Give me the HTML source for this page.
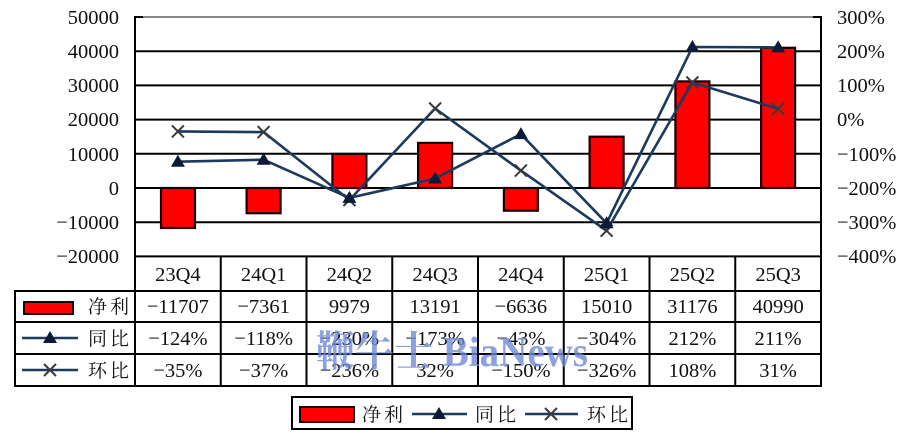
<!DOCTYPE html>
<html><head><meta charset="utf-8"><style>
html,body{margin:0;padding:0;background:#fff;}
svg{display:block;}
text{font-family:"Liberation Serif","Noto Serif CJK SC",serif;fill:#111;}
.cjk{font-family:"Noto Serif CJK SC","Liberation Serif",serif;}
</style></head><body>
<svg width="906" height="442" viewBox="0 0 906 442" xmlns="http://www.w3.org/2000/svg">
<rect width="906" height="442" fill="#fff"/>
<!-- gridlines -->
<line x1="135" y1="17" x2="821" y2="17" stroke="#888" stroke-width="2"/>
<g stroke="#000" stroke-width="2">
<line x1="135" y1="51.2" x2="821" y2="51.2"/>
<line x1="135" y1="85.4" x2="821" y2="85.4"/>
<line x1="135" y1="119.6" x2="821" y2="119.6"/>
<line x1="135" y1="153.8" x2="821" y2="153.8"/>
<line x1="135" y1="188" x2="821" y2="188"/>
<line x1="135" y1="222.2" x2="821" y2="222.2"/>
<line x1="135" y1="256.4" x2="821" y2="256.4"/>
<line x1="135" y1="16" x2="135" y2="387"/>
<line x1="821" y1="16" x2="821" y2="387"/>
<line x1="135" y1="17" x2="143" y2="17"/>
<line x1="813" y1="17" x2="821" y2="17"/>
</g>
<!-- left axis labels -->
<g font-size="20.5" text-anchor="end">
<text x="119" y="24">50000</text>
<text x="119" y="58">40000</text>
<text x="119" y="92">30000</text>
<text x="119" y="126">20000</text>
<text x="119" y="161">10000</text>
<text x="119" y="195">0</text>
<text x="119" y="229">−10000</text>
<text x="119" y="263">−20000</text>
</g>
<!-- right axis labels -->
<g font-size="20.5" text-anchor="start">
<text x="837" y="24">300%</text>
<text x="837" y="58">200%</text>
<text x="837" y="92">100%</text>
<text x="837" y="126">0%</text>
<text x="837" y="161">−100%</text>
<text x="837" y="195">−200%</text>
<text x="837" y="229">−300%</text>
<text x="837" y="263">−400%</text>
</g>
<!-- bars -->
<g fill="#ff0000" stroke="#1a0000" stroke-width="2.2">
<rect x="161" y="188" width="34" height="40"/>
<rect x="246.6" y="188" width="34" height="25.2"/>
<rect x="332.4" y="153.9" width="34" height="34.1"/>
<rect x="418.1" y="142.9" width="34" height="45.1"/>
<rect x="503.9" y="188" width="34" height="22.7"/>
<rect x="589.6" y="136.7" width="34" height="51.3"/>
<rect x="675.4" y="81.4" width="34" height="106.6"/>
<rect x="761.1" y="47.8" width="34" height="140.2"/>
</g>
<!-- 环比 line -->
<polyline fill="none" stroke="#1c3a5e" stroke-width="2.6" points="177.9,131.4 263.6,132.1 349.4,200 435.1,108.5 520.9,170.6 606.6,230.7 692.4,82.5 778.1,108.8"/>
<g stroke="#3a3a3a" stroke-width="2">
<path d="M171.9,125.4l12,12M183.9,125.4l-12,12"/>
<path d="M257.6,126.1l12,12M269.6,126.1l-12,12"/>
<path d="M343.4,194l12,12M355.4,194l-12,12"/>
<path d="M429.1,102.5l12,12M441.1,102.5l-12,12"/>
<path d="M514.9,164.6l12,12M526.9,164.6l-12,12"/>
<path d="M600.6,224.7l12,12M612.6,224.7l-12,12"/>
<path d="M686.4,76.5l12,12M698.4,76.5l-12,12"/>
<path d="M772.1,102.8l12,12M784.1,102.8l-12,12"/>
</g>
<!-- 同比 line -->
<polyline fill="none" stroke="#1c3a5e" stroke-width="2.6" points="177.9,161.7 263.6,159.7 349.4,197.9 435.1,178.5 520.9,134.1 606.6,223.2 692.4,47 778.1,47.4"/>
<g fill="#0b1a36">
<path d="M177.9,154.7l7,12h-14z"/>
<path d="M263.6,152.7l7,12h-14z"/>
<path d="M349.4,190.9l7,12h-14z"/>
<path d="M435.1,171.5l7,12h-14z"/>
<path d="M520.9,127.1l7,12h-14z"/>
<path d="M606.6,216.2l7,12h-14z"/>
<path d="M692.4,40l7,12h-14z"/>
<path d="M778.1,40.4l7,12h-14z"/>
</g>
<!-- table -->
<g stroke="#000" stroke-width="2" fill="none">
<line x1="135" y1="291" x2="821" y2="291"/>
<line x1="15" y1="291" x2="135" y2="291"/>
<line x1="15" y1="322" x2="821" y2="322"/>
<line x1="15" y1="354" x2="821" y2="354"/>
<line x1="15" y1="386" x2="821" y2="386"/>
<line x1="15" y1="290" x2="15" y2="387"/>
<line x1="220.75" y1="256" x2="220.75" y2="387"/>
<line x1="306.5" y1="256" x2="306.5" y2="387"/>
<line x1="392.25" y1="256" x2="392.25" y2="387"/>
<line x1="478" y1="256" x2="478" y2="387"/>
<line x1="563.75" y1="256" x2="563.75" y2="387"/>
<line x1="649.5" y1="256" x2="649.5" y2="387"/>
<line x1="735.25" y1="256" x2="735.25" y2="387"/>
</g>
<g font-size="20.5" text-anchor="middle">
<text x="177.9" y="281">23Q4</text><text x="263.6" y="281">24Q1</text><text x="349.4" y="281">24Q2</text><text x="435.1" y="281">24Q3</text><text x="520.9" y="281">24Q4</text><text x="606.6" y="281">25Q1</text><text x="692.4" y="281">25Q2</text><text x="778.1" y="281">25Q3</text>
<text x="177.9" y="313">−11707</text><text x="263.6" y="313">−7361</text><text x="349.4" y="313">9979</text><text x="435.1" y="313">13191</text><text x="520.9" y="313">−6636</text><text x="606.6" y="313">15010</text><text x="692.4" y="313">31176</text><text x="778.1" y="313">40990</text>
<text x="177.9" y="345">−124%</text><text x="263.6" y="345">−118%</text><text x="349.4" y="345">−230%</text><text x="435.1" y="345">−173%</text><text x="520.9" y="345">−43%</text><text x="606.6" y="345">−304%</text><text x="692.4" y="345">212%</text><text x="778.1" y="345">211%</text>
<text x="177.9" y="377">−35%</text><text x="263.6" y="377">−37%</text><text x="349.4" y="377">−236%</text><text x="435.1" y="377">32%</text><text x="520.9" y="377">−150%</text><text x="606.6" y="377">−326%</text><text x="692.4" y="377">108%</text><text x="778.1" y="377">31%</text>
</g>
<!-- table legend column -->
<rect x="24" y="302" width="49" height="12" fill="#ff0000" stroke="#1a0000" stroke-width="2"/>
<line x1="22" y1="338" x2="78" y2="338" stroke="#1c3a5e" stroke-width="2.6"/>
<path d="M50,331l7,12h-14z" fill="#0b1a36"/>
<line x1="22" y1="370" x2="78" y2="370" stroke="#1c3a5e" stroke-width="2.6"/>
<path d="M44,364l12,12M56,364l-12,12" stroke="#3a3a3a" stroke-width="2"/>
<g font-size="19" class="cjk" letter-spacing="3">
<text x="88" y="313" class="cjk">净利</text>
<text x="88" y="345" class="cjk">同比</text>
<text x="88" y="377" class="cjk">环比</text>
</g>
<!-- watermark -->
<text x="316" y="366" font-size="42" font-weight="bold" style="fill:#6f8ad6;fill-opacity:0.8;font-family:'Liberation Serif','Noto Serif CJK SC',serif;" textLength="272" lengthAdjust="spacingAndGlyphs">鞭牛士 BiaNews</text>
<!-- bottom legend -->
<rect x="292" y="397" width="340" height="32" fill="none" stroke="#000" stroke-width="2"/>
<rect x="300" y="407" width="54" height="15" fill="#ff0000" stroke="#1a0000" stroke-width="2"/>
<line x1="412" y1="414" x2="467" y2="414" stroke="#1c3a5e" stroke-width="2.6"/>
<path d="M439,407l7,12h-14z" fill="#0b1a36"/>
<line x1="525" y1="414" x2="578" y2="414" stroke="#1c3a5e" stroke-width="2.6"/>
<path d="M545,408l12,12M557,408l-12,12" stroke="#3a3a3a" stroke-width="2"/>
<g font-size="19" letter-spacing="3">
<text x="362" y="421" class="cjk">净利</text>
<text x="475" y="421" class="cjk">同比</text>
<text x="587" y="421" class="cjk">环比</text>
</g>
</svg>
</body></html>
